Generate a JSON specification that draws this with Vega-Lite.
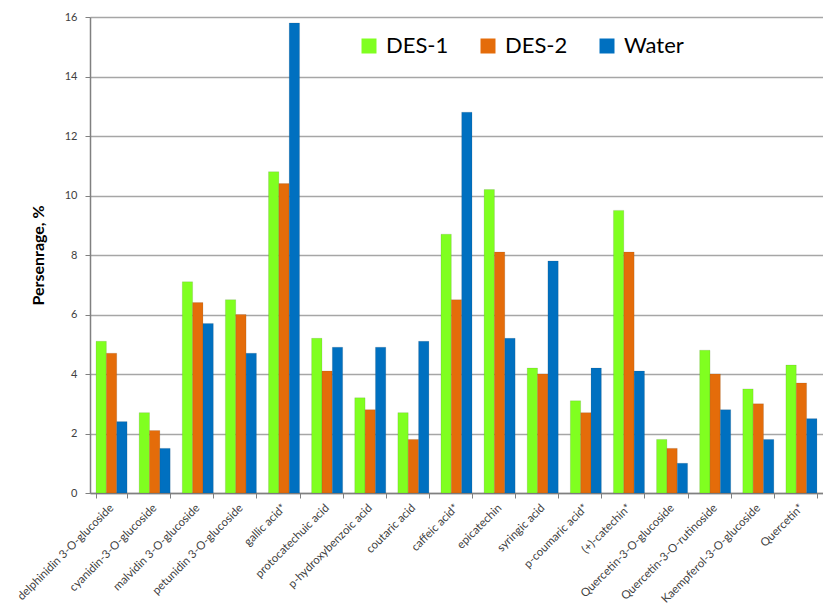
{
  "$schema": "https://vega.github.io/schema/vega-lite/v6.json",
  "width": 733,
  "height": 476,
  "autosize": "none",
  "padding": {"left": 90, "top": 17, "right": 0, "bottom": 117},
  "background": "white",
  "config": {"view": {"stroke": null}, "font": "Lato"},
  "data": {"values": [
    {"c": "delphinidin 3-O-glucoside", "s": "DES-1", "v": 5.1},
    {"c": "delphinidin 3-O-glucoside", "s": "DES-2", "v": 4.7},
    {"c": "delphinidin 3-O-glucoside", "s": "Water", "v": 2.4},
    {"c": "cyanidin-3-O-glucoside", "s": "DES-1", "v": 2.7},
    {"c": "cyanidin-3-O-glucoside", "s": "DES-2", "v": 2.1},
    {"c": "cyanidin-3-O-glucoside", "s": "Water", "v": 1.5},
    {"c": "malvidin 3-O-glucoside", "s": "DES-1", "v": 7.1},
    {"c": "malvidin 3-O-glucoside", "s": "DES-2", "v": 6.4},
    {"c": "malvidin 3-O-glucoside", "s": "Water", "v": 5.7},
    {"c": "petunidin 3-O-glucoside", "s": "DES-1", "v": 6.5},
    {"c": "petunidin 3-O-glucoside", "s": "DES-2", "v": 6.0},
    {"c": "petunidin 3-O-glucoside", "s": "Water", "v": 4.7},
    {"c": "gallic acid*", "s": "DES-1", "v": 10.8},
    {"c": "gallic acid*", "s": "DES-2", "v": 10.4},
    {"c": "gallic acid*", "s": "Water", "v": 15.8},
    {"c": "protocatechuic acid", "s": "DES-1", "v": 5.2},
    {"c": "protocatechuic acid", "s": "DES-2", "v": 4.1},
    {"c": "protocatechuic acid", "s": "Water", "v": 4.9},
    {"c": "p-hydroxybenzoic acid", "s": "DES-1", "v": 3.2},
    {"c": "p-hydroxybenzoic acid", "s": "DES-2", "v": 2.8},
    {"c": "p-hydroxybenzoic acid", "s": "Water", "v": 4.9},
    {"c": "coutaric acid", "s": "DES-1", "v": 2.7},
    {"c": "coutaric acid", "s": "DES-2", "v": 1.8},
    {"c": "coutaric acid", "s": "Water", "v": 5.1},
    {"c": "caffeic acid*", "s": "DES-1", "v": 8.7},
    {"c": "caffeic acid*", "s": "DES-2", "v": 6.5},
    {"c": "caffeic acid*", "s": "Water", "v": 12.8},
    {"c": "epicatechin", "s": "DES-1", "v": 10.2},
    {"c": "epicatechin", "s": "DES-2", "v": 8.1},
    {"c": "epicatechin", "s": "Water", "v": 5.2},
    {"c": "syringic acid", "s": "DES-1", "v": 4.2},
    {"c": "syringic acid", "s": "DES-2", "v": 4.0},
    {"c": "syringic acid", "s": "Water", "v": 7.8},
    {"c": "p-coumaric acid*", "s": "DES-1", "v": 3.1},
    {"c": "p-coumaric acid*", "s": "DES-2", "v": 2.7},
    {"c": "p-coumaric acid*", "s": "Water", "v": 4.2},
    {"c": "(+)-catechin*", "s": "DES-1", "v": 9.5},
    {"c": "(+)-catechin*", "s": "DES-2", "v": 8.1},
    {"c": "(+)-catechin*", "s": "Water", "v": 4.1},
    {"c": "Quercetin-3-O-glucoside", "s": "DES-1", "v": 1.8},
    {"c": "Quercetin-3-O-glucoside", "s": "DES-2", "v": 1.5},
    {"c": "Quercetin-3-O-glucoside", "s": "Water", "v": 1.0},
    {"c": "Quercetin-3-O-rutinoside", "s": "DES-1", "v": 4.8},
    {"c": "Quercetin-3-O-rutinoside", "s": "DES-2", "v": 4.0},
    {"c": "Quercetin-3-O-rutinoside", "s": "Water", "v": 2.8},
    {"c": "Kaempferol-3-O-glucoside", "s": "DES-1", "v": 3.5},
    {"c": "Kaempferol-3-O-glucoside", "s": "DES-2", "v": 3.0},
    {"c": "Kaempferol-3-O-glucoside", "s": "Water", "v": 1.8},
    {"c": "Quercetin*", "s": "DES-1", "v": 4.3},
    {"c": "Quercetin*", "s": "DES-2", "v": 3.7},
    {"c": "Quercetin*", "s": "Water", "v": 2.5}
  ]},
  "mark": {"type": "bar", "stroke": "#3a3a3a", "strokeOpacity": 0.25, "strokeWidth": 0.5},
  "encoding": {
    "x": {
      "field": "c", "type": "nominal", "sort": null,
      "scale": {"paddingInner": 0.28, "paddingOuter": 0.14},
      "axis": {
        "title": null, "labelAngle": -45, "labelAlign": "right", "labelBaseline": "middle",
        "labelFontSize": 11.5, "labelColor": "#404040", "labelPadding": 8,
        "domainColor": "#808080", "domainWidth": 1.5, "tickColor": "#808080", "tickBand": "extent", "tickSize": 5,
        "labelLimit": 200
      }
    },
    "xOffset": {"field": "s", "type": "nominal", "sort": ["DES-1", "DES-2", "Water"]},
    "y": {
      "field": "v", "type": "quantitative",
      "scale": {"domain": [0, 16]},
      "axis": {
        "title": "Persenrage, %", "titleFontSize": 16, "titleFontWeight": "bold", "titleColor": "#000000",
        "titlePadding": 18, "values": [0, 2, 4, 6, 8, 10, 12, 14, 16],
        "labelFontSize": 11, "labelColor": "#404040", "labelPadding": 8,
        "gridColor": "#a6a6a6", "gridWidth": 1.5,
        "domainColor": "#808080", "domainWidth": 1.5, "tickColor": "#808080", "tickSize": 5
      }
    },
    "color": {
      "field": "s", "type": "nominal",
      "scale": {"domain": ["DES-1", "DES-2", "Water"], "range": ["#80FF20", "#E46C0A", "#0070C0"]},
      "legend": {
        "title": null, "orient": "none", "legendX": 268, "legendY": 18, "direction": "horizontal",
        "symbolType": "square", "symbolSize": 225, "symbolStrokeWidth": 0,
        "labelFontSize": 22, "labelColor": "#000000", "columnPadding": 28, "labelOffset": 6
      }
    }
  }
}
